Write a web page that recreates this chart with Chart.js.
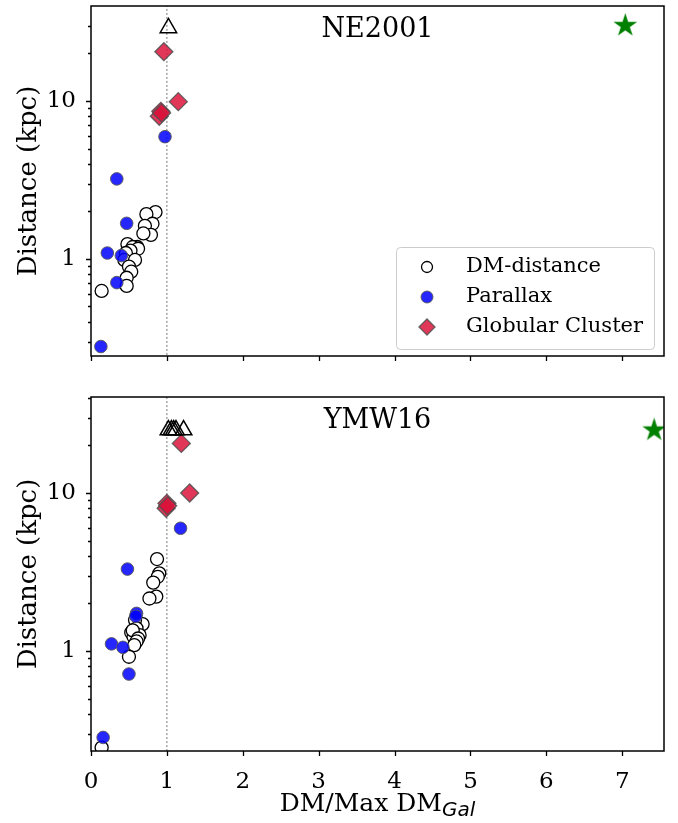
<!DOCTYPE html>
<html>
<head>
<meta charset="utf-8">
<script src="https://cdn.jsdelivr.net/npm/chart.js@4/dist/chart.umd.min.js"></script>
<style>
html, body { margin: 0; padding: 0; background: #fff; }
#wrap { position: relative; width: 678px; height: 823px; overflow: hidden; }
canvas { position: absolute; left: 0; }
#top { top: 0; }
#bottom { top: 380px; }
#xlabel {
    position: absolute; top: 790px; left: 0; width: 755px;
    text-align: center; font-family: 'DejaVu Serif'; font-size: 25px; line-height: 25px; color: #000;
}
#xlabel sub { font-family: 'DejaVu Sans'; font-style: italic; font-size: 20px; vertical-align: -5px; line-height: 0; }
</style>
</head>
<body>
<div id="wrap">
    <canvas id="top" width="678" height="380"></canvas>
    <canvas id="bottom" width="678" height="443"></canvas>
    <div id="xlabel">DM/Max DM<sub>Gal</sub></div>
</div>
<script>
// x axis
const X_TICKS = [0, 1, 2, 3, 4, 5, 6, 7];
const X_MAX = 7.55;
const VLINE_X = 1;
const Y_MAJOR = [1, 10];
const Y_MINOR = [0.2, 0.3, 0.4, 0.5, 0.6, 0.7, 0.8, 0.9, 2, 3, 4, 5, 6, 7, 8, 9, 20, 30, 40];

// NE2001 panel
const ne_dm_x = [0.85, 0.73, 0.81, 0.71, 0.79, 0.69, 0.48, 0.61, 0.55, 0.62, 0.52, 0.46, 0.44, 0.58, 0.50, 0.53, 0.47, 0.47, 0.14];
const ne_dm_y = [1.98, 1.92, 1.67, 1.62, 1.42, 1.45, 1.24, 1.19, 1.19, 1.16, 1.13, 1.09, 0.985, 0.985, 0.894, 0.83, 0.76, 0.675, 0.627];
const ne_plx_x = [0.975, 0.34, 0.47, 0.215, 0.40, 0.34, 0.13];
const ne_plx_y = [5.94, 3.21, 1.68, 1.09, 1.05, 0.708, 0.279];
const ne_gc_x = [0.96, 1.15, 0.92, 0.90, 0.93];
const ne_gc_y = [20.5, 9.9, 8.6, 8.0, 8.4];
const ne_lim_x = [1.02];
const ne_lim_y = [29];
const ne_star_x = [7.04];
const ne_star_y = [30];

// YMW16 panel
const ymw_dm_x = [0.87, 0.90, 0.88, 0.82, 0.86, 0.77, 0.68, 0.58, 0.60, 0.53, 0.64, 0.56, 0.55, 0.62, 0.60, 0.57, 0.50, 0.14];
const ymw_dm_y = [3.82, 3.10, 2.95, 2.71, 2.21, 2.15, 1.48, 1.57, 1.39, 1.31, 1.26, 1.23, 1.35, 1.20, 1.15, 1.09, 0.92, 0.245];
const ymw_plx_x = [1.18, 0.48, 0.60, 0.59, 0.27, 0.42, 0.50, 0.16];
const ymw_plx_y = [5.98, 3.30, 1.73, 1.66, 1.11, 1.055, 0.715, 0.284];
const ymw_gc_x = [1.19, 1.30, 1.00, 0.99, 1.01];
const ymw_gc_y = [20.6, 10.0, 8.6, 8.0, 8.3];
const ymw_lim_x = [1.02, 1.06, 1.09, 1.12, 1.22];
const ymw_lim_y = [25, 25, 25, 25, 25];
const ymw_star_x = [7.42];
const ymw_star_y = [25];

const SERIF = 'DejaVu Serif';

function pts(xs, ys) {
    return xs.map((x, i) => ({x: x, y: ys[i]}));
}

function makeStar(r, color) {
    const c = document.createElement('canvas');
    const s = Math.ceil(r * 2 + 2);
    c.width = s;
    c.height = s;
    const g = c.getContext('2d');
    g.fillStyle = color;
    g.beginPath();
    for (let i = 0; i < 10; i++) {
        const rr = i % 2 === 0 ? r : r * 0.382;
        const a = -Math.PI / 2 + i * Math.PI / 5;
        const px = s / 2 + rr * Math.cos(a), py = s / 2 + rr * Math.sin(a);
        if (i === 0) g.moveTo(px, py); else g.lineTo(px, py);
    }
    g.closePath();
    g.fill();
    return c;
}
const starImg = makeStar(12.5, '#008000');

const DM_STYLE = {pointStyle: 'circle', radius: 6.5, backgroundColor: '#ffffff', borderColor: '#000000', borderWidth: 1.3};
const PLX_STYLE = {pointStyle: 'circle', radius: 6.3, backgroundColor: 'rgba(0,0,255,0.85)', borderColor: 'rgba(90,90,90,0.9)', borderWidth: 1};
const GC_STYLE = {pointStyle: 'rectRot', radius: 9, backgroundColor: 'rgba(220,20,60,0.85)', borderColor: 'rgba(80,80,80,0.85)', borderWidth: 1.3};

// frame, ticks, panel title and legend
const panelPlugin = {
    id: 'panel',
    afterDraw(chart, args, opts) {
        const ctx = chart.ctx;
        const a = chart.chartArea;
        const xs = chart.scales.x, ys = chart.scales.y;
        ctx.save();
        ctx.strokeStyle = '#000';
        ctx.lineWidth = 1.5;
        ctx.strokeRect(a.left, a.top, a.right - a.left, a.bottom - a.top);

        ctx.lineWidth = 1.3;
        ctx.beginPath();
        for (const t of xs.ticks) {
            const px = Math.round(xs.getPixelForValue(t.value)) + 0.5;
            ctx.moveTo(px, a.bottom);
            ctx.lineTo(px, a.bottom + 5);
        }
        for (const t of ys.ticks) {
            const py = Math.round(ys.getPixelForValue(t.value)) + 0.5;
            const len = Y_MAJOR.includes(t.value) ? 5 : 3;
            ctx.moveTo(a.left, py);
            ctx.lineTo(a.left - len, py);
        }
        ctx.stroke();

        ctx.fillStyle = '#000';
        ctx.font = `27px '${SERIF}'`;
        ctx.textAlign = 'center';
        ctx.textBaseline = 'middle';
        ctx.fillText(opts.title, (a.left + a.right) / 2, a.top + 24);

        if (opts.legend) {
            const w = 258, h = 102;
            const lx = a.right - 10 - w, ly = a.bottom - 7 - h;
            ctx.fillStyle = 'rgba(255,255,255,0.8)';
            ctx.strokeStyle = '#cccccc';
            ctx.lineWidth = 1;
            ctx.beginPath();
            if (ctx.roundRect) ctx.roundRect(lx + 0.5, ly + 0.5, w, h, 4); else ctx.rect(lx + 0.5, ly + 0.5, w, h);
            ctx.fill();
            ctx.stroke();
            const items = [
                ['DM-distance', Object.assign({}, DM_STYLE, {radius: 5.5})],
                ['Parallax', Object.assign({}, PLX_STYLE, {radius: 6})],
                ['Globular Cluster', Object.assign({}, GC_STYLE, {radius: 8})]
            ];
            items.forEach((it, i) => {
                const cy = ly + 20 + i * 30;
                const st = it[1];
                ctx.fillStyle = st.backgroundColor;
                ctx.strokeStyle = st.borderColor;
                ctx.lineWidth = st.borderWidth;
                Chart.helpers.drawPoint(ctx, {pointStyle: st.pointStyle, radius: st.radius, rotation: 0, borderWidth: st.borderWidth}, lx + 31, cy);
                ctx.fillStyle = '#000';
                ctx.font = `21px '${SERIF}'`;
                ctx.textAlign = 'left';
                ctx.textBaseline = 'middle';
                ctx.fillText(it[0], lx + 70, cy);
            });
        }
        ctx.restore();
    }
};

function buildChart(el, p) {
    const yTicks = Y_MAJOR.concat(Y_MINOR).filter(v => v >= p.ymin && v <= p.ymax).sort((a, b) => a - b);
    return new Chart(el, {
        type: 'scatter',
        data: {
            datasets: [
                {label: 'star', data: pts(p.star_x, p.star_y), pointStyle: starImg, radius: 12, order: 0, clip: 0},
                {label: 'limit', data: pts(p.lim_x, p.lim_y), pointStyle: 'triangle', radius: 9.5,
                    backgroundColor: 'rgba(0,0,0,0)', borderColor: '#000', borderWidth: 1.5, order: 1, clip: 0},
                Object.assign({label: 'Globular Cluster', data: pts(p.gc_x, p.gc_y), order: 2, clip: 0}, GC_STYLE),
                Object.assign({label: 'Parallax', data: pts(p.plx_x, p.plx_y), order: 3, clip: 0}, PLX_STYLE),
                Object.assign({label: 'DM-distance', data: pts(p.dm_x, p.dm_y), order: 4, clip: 0}, DM_STYLE),
                {type: 'line', label: 'vline', data: [{x: VLINE_X, y: 0.01}, {x: VLINE_X, y: 1000}],
                    borderColor: '#777', borderWidth: 1, borderDash: [2, 2], pointRadius: 0, showLine: true, order: 5, clip: 0}
            ]
        },
        options: {
            responsive: false,
            devicePixelRatio: 1,
            animation: false,
            events: [],
            layout: {autoPadding: false, padding: {left: 0, right: 14, top: p.padTop, bottom: 0}},
            plugins: {
                legend: {display: false},
                tooltip: {enabled: false},
                panel: {title: p.title, legend: p.legend}
            },
            scales: {
                x: {
                    type: 'linear', min: 0, max: X_MAX,
                    grid: {display: false},
                    border: {display: false},
                    afterBuildTicks: s => { s.ticks = X_TICKS.map(v => ({value: v})); },
                    ticks: {display: p.xLabels, padding: 9, autoSkip: false, maxRotation: 0,
                        color: '#000', font: {family: SERIF, size: 23}},
                    afterFit: s => { s.height = p.xHeight; s.paddingLeft = 0; s.paddingRight = 0; }
                },
                y: {
                    type: 'logarithmic', min: p.ymin, max: p.ymax,
                    grid: {display: false},
                    border: {display: false},
                    afterBuildTicks: s => { s.ticks = yTicks.map(v => ({value: v})); },
                    ticks: {
                        autoSkip: false, padding: 7, color: '#000', font: {family: SERIF, size: 23, lineHeight: 0.4},
                        callback: v => (v === 1 ? '1' : v === 10 ? '10' : '')
                    },
                    title: {display: true, text: 'Distance (kpc)', color: '#000',
                        font: {family: SERIF, size: 26}, padding: {top: 14, bottom: 0}},
                    afterFit: s => { s.width = 91; s.paddingTop = 0; s.paddingBottom = 0; }
                }
            }
        },
        plugins: [panelPlugin]
    });
}

buildChart(document.getElementById('top'), {
    title: 'NE2001', legend: true, xLabels: false, xHeight: 24, padTop: 6,
    ymin: 0.243, ymax: 39.9,
    dm_x: ne_dm_x, dm_y: ne_dm_y, plx_x: ne_plx_x, plx_y: ne_plx_y,
    gc_x: ne_gc_x, gc_y: ne_gc_y, lim_x: ne_lim_x, lim_y: ne_lim_y,
    star_x: ne_star_x, star_y: ne_star_y
});

buildChart(document.getElementById('bottom'), {
    title: 'YMW16', legend: false, xLabels: true, xHeight: 72, padTop: 17,
    ymin: 0.233, ymax: 40.5,
    dm_x: ymw_dm_x, dm_y: ymw_dm_y, plx_x: ymw_plx_x, plx_y: ymw_plx_y,
    gc_x: ymw_gc_x, gc_y: ymw_gc_y, lim_x: ymw_lim_x, lim_y: ymw_lim_y,
    star_x: ymw_star_x, star_y: ymw_star_y
});
</script>
</body>
</html>
